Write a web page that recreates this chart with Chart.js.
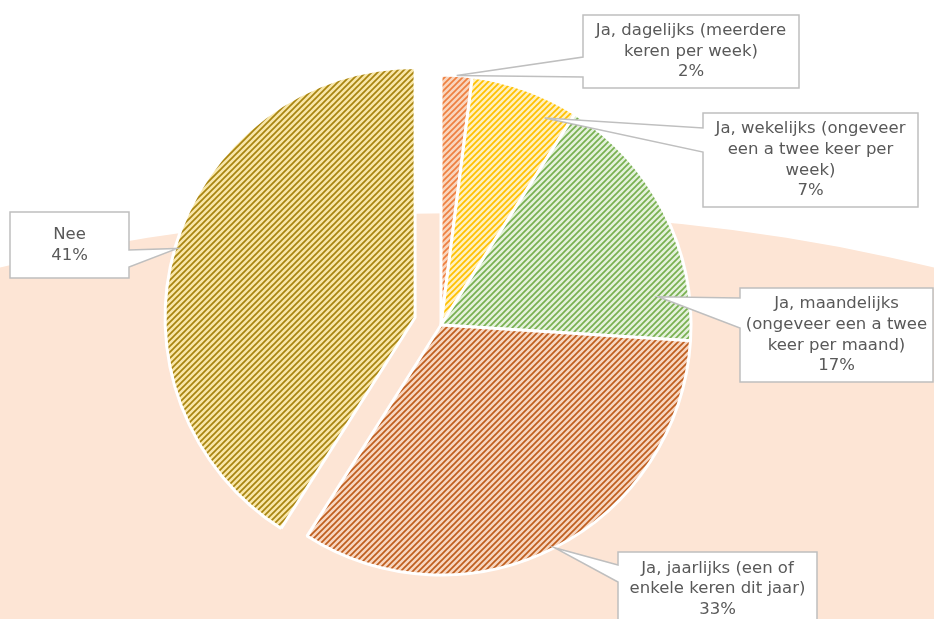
<!DOCTYPE html>
<html>
<head>
<meta charset="utf-8">
<script src="https://cdn.jsdelivr.net/npm/chart.js@4.4.1/dist/chart.umd.min.js"></script>
<style>
  html, body { margin: 0; padding: 0; background: #fff; }
  #wrap { width: 934px; height: 619px; }
</style>
</head>
<body>
<div id="wrap"><canvas id="pie" width="934" height="619"></canvas></div>
<script>
// Chart data
const categories = [
  ['Ja, dagelijks (meerdere', 'keren per week)'],
  ['Ja, wekelijks (ongeveer', 'een a twee keer per', 'week)'],
  ['Ja, maandelijks', '(ongeveer een a twee', 'keer per maand)'],
  ['Ja, jaarlijks (een of', 'enkele keren dit jaar)'],
  ['Nee']
];
const percentages = [2, 7, 17, 33, 41];

// Slice styling (hatched fills)
const baseColors = ['#F9D5BE', '#FFF0BE', '#E4F1DB', '#F7D6C0', '#F8E6A8'];
const stripeColors = ['#EE8040', '#FFC000', '#78B050', '#BF5E1E', '#A88410'];
// exploded distance in px (pure shift, the radius stays the same)
const explode = [0, 0, 0, 0, 27];

// Callout boxes: box rect, which side the pointer leaves, pointer base, tip inside slice
const callouts = [
  { x: 583, y: 15,  w: 216, h: 73, side: 'left',  b1: 57,  b2: 77,  tipA: 0.5,  tipR: 1.0 },
  { x: 703, y: 113, w: 215, h: 94, side: 'left',  b1: 128, b2: 152, tipA: 0.77, tipR: 0.926 },
  { x: 740, y: 288, w: 193, h: 94, side: 'left',  b1: 298, b2: 328, tipA: 0.82, tipR: 0.876 },
  { x: 618, y: 552, w: 199, h: 74, side: 'left',  b1: 565, b2: 582, tipA: 0.5,  tipR: 1.0 },
  { x: 10,  y: 212, w: 119, h: 66, side: 'right', b1: 250, b2: 267, tipA: 0.5,  tipR: 0.99 }
];

function hatch(base, stripe) {
  const s = 6;
  const c = document.createElement('canvas');
  c.width = s; c.height = s;
  const g = c.getContext('2d');
  g.fillStyle = base;
  g.fillRect(0, 0, s, s);
  g.strokeStyle = stripe;
  g.lineWidth = 1.7;
  g.beginPath();
  g.moveTo(0, s); g.lineTo(s, 0);
  g.moveTo(-1, 1); g.lineTo(1, -1);
  g.moveTo(s - 1, s + 1); g.lineTo(s + 1, s - 1);
  g.stroke();
  return g.createPattern(c, 'repeat');
}

// Peach backdrop behind the pie
const backdrop = {
  id: 'backdrop',
  beforeDraw(chart) {
    const ctx = chart.ctx;
    ctx.save();
    ctx.fillStyle = '#ffffff';
    ctx.fillRect(0, 0, chart.width, chart.height);
    ctx.fillStyle = '#FDE5D5';
    ctx.beginPath();
    ctx.ellipse(467, 790, 1100, 577, 0, 0, Math.PI * 2);
    ctx.fill();
    ctx.restore();
  }
};

// Move exploded slices out along their middle angle
const explodeSlices = {
  id: 'explodeSlices',
  afterDatasetsUpdate(chart) {
    chart.getDatasetMeta(0).data.forEach((arc, i) => {
      if (!explode[i]) return;
      const mid = (arc.startAngle + arc.endAngle) / 2;
      arc.x += Math.cos(mid) * explode[i];
      arc.y += Math.sin(mid) * explode[i];
    });
  }
};

// Data callouts with pointer wedges
const calloutLabels = {
  id: 'calloutLabels',
  afterDraw(chart) {
    const ctx = chart.ctx;
    const arcs = chart.getDatasetMeta(0).data;
    ctx.save();
    ctx.font = '16.5px "DejaVu Sans"';
    ctx.textAlign = 'center';
    ctx.textBaseline = 'middle';
    arcs.forEach((arc, i) => {
      const c = callouts[i];
      const a = arc.startAngle + c.tipA * (arc.endAngle - arc.startAngle);
      const r = c.tipR * arc.outerRadius;
      const tx = arc.x + Math.cos(a) * r;
      const ty = arc.y + Math.sin(a) * r;

      ctx.beginPath();
      if (c.side === 'left') {
        ctx.moveTo(c.x, c.y);
        ctx.lineTo(c.x + c.w, c.y);
        ctx.lineTo(c.x + c.w, c.y + c.h);
        ctx.lineTo(c.x, c.y + c.h);
        ctx.lineTo(c.x, c.b2);
        ctx.lineTo(tx, ty);
        ctx.lineTo(c.x, c.b1);
      } else {
        ctx.moveTo(c.x, c.y);
        ctx.lineTo(c.x + c.w, c.y);
        ctx.lineTo(c.x + c.w, c.b1);
        ctx.lineTo(tx, ty);
        ctx.lineTo(c.x + c.w, c.b2);
        ctx.lineTo(c.x + c.w, c.y + c.h);
        ctx.lineTo(c.x, c.y + c.h);
      }
      ctx.closePath();
      ctx.fillStyle = '#ffffff';
      ctx.fill();
      ctx.strokeStyle = '#BFBFBF';
      ctx.lineWidth = 1.5;
      ctx.stroke();

      const lines = categories[i].concat([percentages[i] + '%']);
      const lh = 20.7;
      const y0 = c.y + c.h / 2 - (lines.length - 1) / 2 * lh;
      ctx.fillStyle = '#595959';
      lines.forEach((t, k) => ctx.fillText(t, c.x + c.w / 2, y0 + k * lh));
    });
    ctx.restore();
  }
};

new Chart(document.getElementById('pie'), {
  type: 'pie',
  data: {
    labels: categories.map(l => l.join(' ')),
    datasets: [{
      data: percentages,
      backgroundColor: baseColors.map((b, i) => hatch(b, stripeColors[i])),
      borderColor: '#ffffff',
      borderWidth: 3,
      hoverOffset: 0
    }]
  },
  options: {
    responsive: false,
    animation: false,
    events: [],
    devicePixelRatio: 1,
    layout: { padding: { left: 189.5, right: 241.5, top: 73.5, bottom: 42.5 } },
    plugins: {
      legend: { display: false },
      tooltip: { enabled: false }
    }
  },
  plugins: [backdrop, explodeSlices, calloutLabels]
});
</script>
</body>
</html>
